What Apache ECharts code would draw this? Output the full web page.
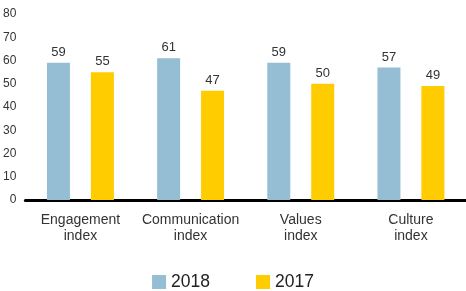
<!DOCTYPE html>
<html>
<head>
<meta charset="utf-8">
<script src="https://cdn.jsdelivr.net/npm/echarts@6/dist/echarts.min.js"></script>
<style>
  html, body { margin: 0; padding: 0; background: #fff; }
  #chart { width: 466px; height: 291px; }
</style>
</head>
<body>
<div id="chart"></div>
<script>
var categories = ['Engagement\nindex', 'Communication\nindex', 'Values\nindex', 'Culture\nindex'];
var values2018 = [59, 61, 59, 57];
var values2017 = [55, 47, 50, 49];

var myChart = echarts.init(document.getElementById('chart'));

var labelStyle = {
    show: true,
    position: 'top',
    distance: 4,
    color: '#333',
    fontSize: 13,
    fontFamily: 'Liberation Sans, Arial, sans-serif'
};

var option = {
    animation: false,
    grid: { left: 25, right: -3, top: 14, bottom: 91 },
    legend: {
        top: 268,
        left: 'center',
        itemWidth: 14,
        itemHeight: 14,
        itemGap: 46,
        icon: 'rect',
        textStyle: { fontSize: 17.5, color: '#222', fontFamily: 'Liberation Sans, Arial, sans-serif' },
        data: ['2018', '2017']
    },
    xAxis: {
        type: 'category',
        data: categories,
        axisLine: { lineStyle: { color: '#000', width: 3 } },
        axisTick: { show: false },
        axisLabel: {
            margin: 12,
            color: '#333',
            fontSize: 14,
            lineHeight: 16,
            interval: 0,
            fontFamily: 'Liberation Sans, Arial, sans-serif'
        }
    },
    yAxis: {
        type: 'value',
        min: 0,
        max: 80,
        interval: 10,
        splitLine: { show: false },
        axisLine: { show: false },
        axisTick: { show: false },
        axisLabel: {
            margin: 9,
            color: '#333',
            fontSize: 12,
            fontFamily: 'Liberation Sans, Arial, sans-serif'
        }
    },
    series: [
        {
            name: '2018',
            type: 'bar',
            data: values2018,
            barWidth: 23,
            barGap: '91%',
            itemStyle: { color: '#95BDD3' },
            label: labelStyle
        },
        {
            name: '2017',
            type: 'bar',
            data: values2017,
            barWidth: 23,
            itemStyle: { color: '#FFCC00' },
            label: labelStyle
        }
    ]
};

myChart.setOption(option);
</script>
</body>
</html>
